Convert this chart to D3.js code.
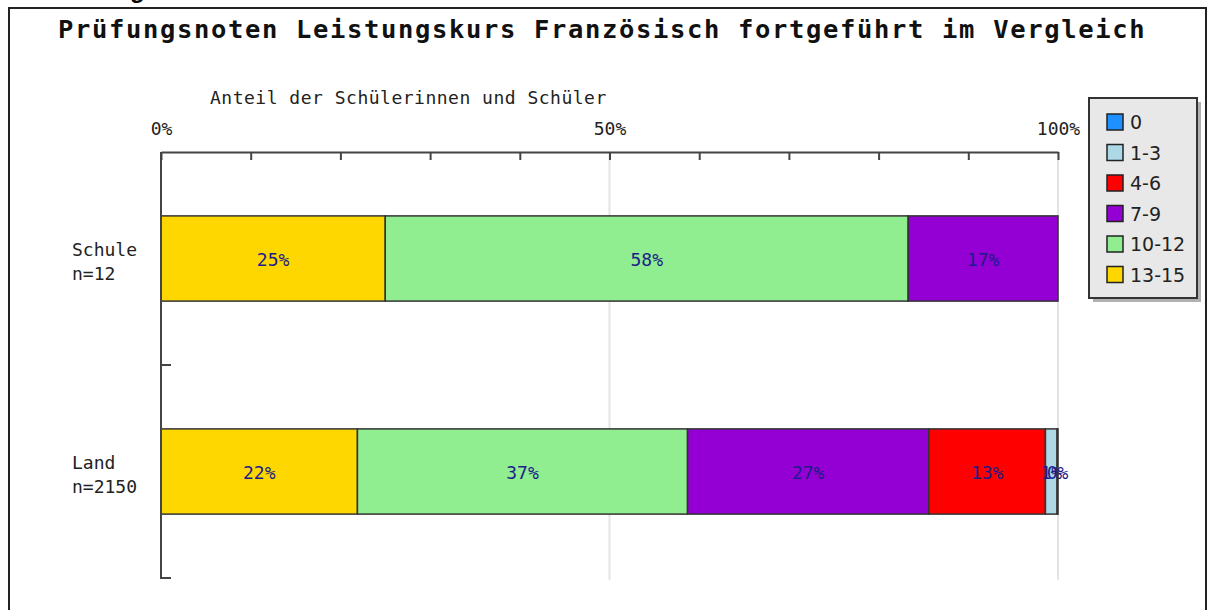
<!DOCTYPE html>
<meta charset="utf-8">
<script src="https://d3js.org/d3.v7.min.js"></script>
<style>
  body { margin: 0; background: #fff; }
  text { font-family: "DejaVu Sans Mono", monospace; }
</style>
<div id="chart"></div>
<script>

// categories (rows) and their second line
var categories = ["Schule", "Land"];
var counts = ["n=12", "n=2150"];

// grade groups, drawn left to right from best to worst
var grades = ["13-15", "10-12", "7-9", "4-6", "1-3", "0"];
var legendOrder = ["0", "1-3", "4-6", "7-9", "10-12", "13-15"];

// percentage shares per category, same order as grades
var schule = [25.0, 58.3, 16.7, 0, 0, 0];
var land = [21.9, 36.8, 26.9, 13.0, 1.3, 0.1];

var xTicks = [0, 10, 20, 30, 40, 50, 60, 70, 80, 90, 100];
var xLabels = [0, 50, 100];

var colors = {
  "0": "#1e90ff", "1-3": "#add8e6", "4-6": "#ff0000",
  "7-9": "#9400d3", "10-12": "#90ee90", "13-15": "#ffd700"
};

var W = 1208, H = 610;
var plot = {left: 161, right: 1058, top: 152, bottom: 578};

var svg = d3.select("#chart").append("svg")
    .attr("width", W)
    .attr("height", H);

// cut off heading from the page above the chart
svg.append("text")
    .attr("x", 130).attr("y", -2)
    .style("font-family", "'Liberation Sans', sans-serif")
    .style("font-weight", "bold")
    .style("font-size", "24px")
    .text("g");

// frame
svg.append("rect")
    .attr("x", 9).attr("y", 8)
    .attr("width", 1197).attr("height", H)
    .attr("fill", "none")
    .attr("stroke", "#222")
    .attr("stroke-width", 2);

// title
svg.append("text")
    .attr("x", 58).attr("y", 38)
    .style("font-size", "25.5px")
    .style("font-weight", "bold")
    .style("letter-spacing", "1.65px")
    .attr("fill", "#111")
    .text("Prüfungsnoten Leistungskurs Französisch fortgeführt im Vergleich");

var x = d3.scaleLinear()
    .domain([0, 100])
    .range([plot.left, plot.right]);

var y = d3.scaleBand()
    .domain(categories)
    .range([plot.top, plot.bottom])
    .padding(0);

// gridlines at the labelled ticks
svg.append("g")
  .selectAll("line")
  .data(xLabels.slice(1))
  .enter().append("line")
    .attr("x1", function(d) { return x(d); })
    .attr("x2", function(d) { return x(d); })
    .attr("y1", plot.top)
    .attr("y2", plot.bottom + 2)
    .attr("stroke", "#e4e4e4")
    .attr("stroke-width", 2);

// stacked bars
var rows = categories.map(function(c, i) {
  var vals = i === 0 ? schule : land;
  var acc = 0;
  return grades.map(function(g, j) {
    var seg = {cat: c, key: g, x0: acc, x1: acc + vals[j], value: vals[j]};
    acc += vals[j];
    return seg;
  }).filter(function(s) { return s.value > 0; });
});

var barH = y.bandwidth() * 0.4;

var seg = svg.append("g")
  .selectAll("g")
  .data(rows)
  .enter().append("g")
  .selectAll("g")
  .data(function(d) { return d; })
  .enter().append("g");

seg.append("rect")
    .attr("x", function(d) { return x(d.x0); })
    .attr("y", function(d) { return y(d.cat) + (y.bandwidth() - barH) / 2; })
    .attr("width", function(d) { return x(d.x1) - x(d.x0); })
    .attr("height", barH)
    .attr("fill", function(d) { return colors[d.key]; })
    .attr("stroke", "#333")
    .attr("stroke-width", 1.5);

seg.append("text")
    .attr("x", function(d) { return x((d.x0 + d.x1) / 2); })
    .attr("y", function(d) { return y(d.cat) + y.bandwidth() / 2 + 7; })
    .attr("text-anchor", "middle")
    .style("font-size", "18px")
    .attr("fill", "#1c1c8c")
    .text(function(d) { return Math.round(d.value) + "%"; });

// top axis with ticks pointing into the plot
var xAxis = svg.append("g")
    .attr("transform", "translate(0," + plot.top + ")")
    .call(d3.axisTop(x)
      .tickValues(xTicks)
      .tickSizeInner(-8)
      .tickSizeOuter(0)
      .tickPadding(17)
      .tickFormat(function(d) { return xLabels.indexOf(d) >= 0 ? d + "%" : ""; }));
xAxis.select(".domain").attr("stroke", "#444").attr("stroke-width", 2);
xAxis.selectAll(".tick line").attr("stroke", "#444").attr("stroke-width", 2);
xAxis.selectAll(".tick text")
    .style("font-family", "'DejaVu Sans Mono', monospace")
    .style("font-size", "18px")
    .attr("fill", "#222");

// left axis line and ticks between the categories
svg.append("line")
    .attr("x1", plot.left).attr("x2", plot.left)
    .attr("y1", plot.top).attr("y2", plot.bottom + 1)
    .attr("stroke", "#444").attr("stroke-width", 2);
svg.append("g")
  .selectAll("line")
  .data(categories)
  .enter().append("line")
    .attr("x1", plot.left)
    .attr("x2", plot.left + 10)
    .attr("y1", function(d) { return y(d) + y.bandwidth(); })
    .attr("y2", function(d) { return y(d) + y.bandwidth(); })
    .attr("stroke", "#444").attr("stroke-width", 2);

// category labels
var catLab = svg.append("g")
  .selectAll("text")
  .data(categories)
  .enter().append("text")
    .attr("x", 72)
    .attr("y", function(d) { return y(d) + y.bandwidth() / 2 - 3; })
    .style("font-size", "18px")
    .attr("fill", "#222");
catLab.append("tspan").text(function(d) { return d; });
catLab.append("tspan")
    .attr("x", 72).attr("dy", 24)
    .text(function(d, i) { return counts[i]; });

// axis title
svg.append("text")
    .attr("x", 210).attr("y", 104)
    .style("font-size", "18px")
    .style("letter-spacing", "0.5px")
    .attr("fill", "#222")
    .text("Anteil der Schülerinnen und Schüler");

// legend
var lg = svg.append("g").attr("transform", "translate(1089,98)");
lg.append("rect")
    .attr("x", 4).attr("y", 4)
    .attr("width", 108).attr("height", 200)
    .attr("fill", "#b0b0b0");
lg.append("rect")
    .attr("width", 108).attr("height", 200)
    .attr("fill", "#e8e8e8")
    .attr("stroke", "#333")
    .attr("stroke-width", 2);
var item = lg.selectAll(".item")
  .data(legendOrder)
  .enter().append("g")
    .attr("transform", function(d, i) { return "translate(18," + (16 + i * 30.5) + ")"; });
item.append("rect")
    .attr("width", 16).attr("height", 16)
    .attr("fill", function(d) { return colors[d]; })
    .attr("stroke", "#222")
    .attr("stroke-width", 1.5);
item.append("text")
    .attr("x", 23).attr("y", 15)
    .style("font-family", "'DejaVu Sans', sans-serif")
    .style("font-size", "19px")
    .attr("fill", "#222")
    .text(function(d) { return d; });

</script>
